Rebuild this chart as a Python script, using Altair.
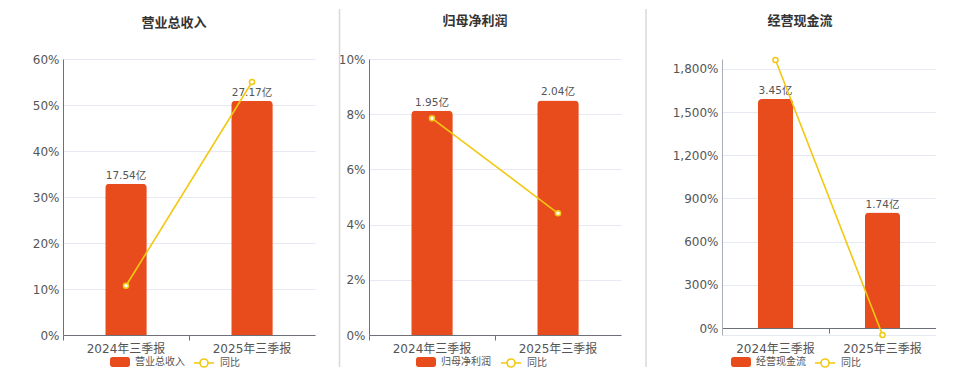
import altair as alt
import pandas as pd

categories = ["2024年三季报", "2025年三季报"]
revenue = [17.54, 27.17]
revenue_yoy = [10.7, 55.0]
profit = [1.95, 2.04]
profit_yoy = [7.85, 4.41]
cashflow = [3.45, 1.74]
cashflow_yoy = [1862.0, -48.6]

titles = ["营业总收入", "归母净利润", "经营现金流"]
yoy_name = "同比"

BAR = "#E84C1D"
LINE = "#F2C811"
GRID = "#E6E9F4"
AXIS = "#6E7079"
TXT = "#555555"
SEP = "#D9D9D9"
CJK = "Noto Sans CJK SC"
LAT = "DejaVu Sans, Noto Sans CJK SC"
H = 276
LEG_Y = 293

BAR_SYM = ("M-0.75,-0.5L0.75,-0.5A0.25,0.25,0,0,1,1,-0.25L1,0.25A0.25,0.25,0,0,1,0.75,0.5"
           "L-0.75,0.5A0.25,0.25,0,0,1,-1,0.25L-1,-0.25A0.25,0.25,0,0,1,-0.75,-0.5Z")
LINE_SYM = "M-1,0L-0.4,0M0.4,0L1,0M0.4,0A0.4,0.4,0,1,1,-0.4,0A0.4,0.4,0,1,1,0.4,0Z"


def panel(name, values, yoy, bar_domain, line_domain, tick_values, label_expr,
          width, yextent, sep_x, title_dx, title_offset, lx1, lx2,
          x_offset=0, x_label_pad=3, ydomain_color=AXIS):
    df = pd.DataFrame({
        "cat": categories,
        "value": values,
        "yoy": yoy,
        "label": [f"{v:.2f}亿" for v in values],
        "bar_series": [name] * len(categories),
        "line_series": [yoy_name] * len(categories),
    })
    base = alt.Chart(df)
    x = alt.X(
        "cat:N", sort=categories,
        scale=alt.Scale(paddingInner=0, paddingOuter=0),
        axis=alt.Axis(title=None, labelAngle=0, bandPosition=0,
                      domainColor=AXIS, tickColor=AXIS, tickSize=5, ticks=True,
                      labelFontSize=12, labelColor=TXT, labelFont=LAT,
                      labelPadding=x_label_pad, offset=x_offset, grid=False),
    )
    ybar = alt.Y("value:Q", scale=alt.Scale(domain=bar_domain, nice=False, zero=False), axis=None)
    bars = base.mark_bar(width=alt.RelativeBandSize(0.33),
                         cornerRadiusTopLeft=4, cornerRadiusTopRight=4).encode(
        x=x, y=ybar,
        fill=alt.Fill("bar_series:N", scale=alt.Scale(domain=[name], range=[BAR]),
                      legend=alt.Legend(title=None, orient="none", legendX=lx1, legendY=LEG_Y,
                                        symbolType=BAR_SYM, symbolSize=400, symbolStrokeWidth=0,
                                        labelFontSize=10, labelColor=TXT, labelFont=CJK,
                                        labelOffset=5, padding=0)),
    )
    labels = base.mark_text(baseline="bottom", dy=-3, fontSize=10.5, color=TXT, font=LAT).encode(
        x=x, y=ybar, text="label:N")
    bar_layer = alt.layer(bars, labels)

    yaxis = alt.Axis(title=None, values=tick_values, labelExpr=label_expr, grid=True,
                     gridColor=GRID, ticks=False, domainColor=ydomain_color,
                     labelFontSize=12, labelColor=TXT, labelFont=LAT, labelPadding=4,
                     minExtent=yextent, maxExtent=yextent)
    yline = alt.Y("yoy:Q", scale=alt.Scale(domain=line_domain, nice=False, zero=False), axis=yaxis)
    line = base.mark_line(strokeWidth=1.6).encode(
        x=x, y=yline,
        stroke=alt.Stroke("line_series:N", scale=alt.Scale(domain=[yoy_name], range=[LINE]),
                          legend=alt.Legend(title=None, orient="none", legendX=lx2, legendY=LEG_Y,
                                            symbolType=LINE_SYM, symbolSize=400,
                                            symbolStrokeWidth=1.6, symbolFillColor="white",
                                            labelFontSize=10, labelColor=TXT, labelFont=CJK,
                                            labelOffset=5, padding=0)),
    )
    pts = base.mark_point(shape="circle", filled=True, fill="white", stroke=LINE,
                          strokeWidth=1.5, size=26, opacity=1).encode(x=x, y=yline)
    line_layers = [line, pts]
    if sep_x is not None:
        sep = alt.Chart(pd.DataFrame({"s": [0]})).mark_rule(color=SEP, strokeWidth=1.5).encode(
            x=alt.value(sep_x), y=alt.value(-50), y2=alt.value(308))
        line_layers.append(sep)
    line_layer = alt.layer(*line_layers)

    return alt.layer(bar_layer, line_layer).resolve_scale(y="independent").properties(
        width=width, height=H,
        title=alt.TitleParams(text=name, anchor="middle", frame="group", fontSize=13,
                              fontWeight="bold", color="#333333", font=CJK,
                              offset=title_offset, dx=title_dx, baseline="bottom"),
    )


p1 = panel(titles[0], revenue, revenue_yoy, [0, 32], [0, 60], [0, 10, 20, 30, 40, 50, 60],
           "datum.value + '%'", 252, 55, None, -15, 10.5, 47, 130)
p2 = panel(titles[1], profit, profit_yoy, [0, 2.4], [0, 10], [0, 2, 4, 6, 8, 10],
           "datum.value + '%'", 252, 40, -29.5, -20, -32.5, 47, 131)
p3 = panel(titles[2], cashflow, cashflow_yoy, [-0.1055, 4.053], [min(cashflow_yoy), 1869],
           [min(cashflow_yoy), 0, 300, 600, 900, 1200, 1500, 1800],
           "datum.value < 0 ? '' : format(datum.value, ',') + '%'", 214, 87, -76, -29, -32.5, 9, 92,
           x_offset=-7, x_label_pad=10, ydomain_color="#A9ADB8")

chart = (alt.hconcat(p1, p2, p3, spacing=14)
         .resolve_scale(fill="independent", stroke="independent")
         .resolve_legend(fill="independent", stroke="independent")
         .properties(padding=0)
         .configure_view(stroke=None))

chart.save("out.html", embed_options={"renderer": "svg", "actions": False})
